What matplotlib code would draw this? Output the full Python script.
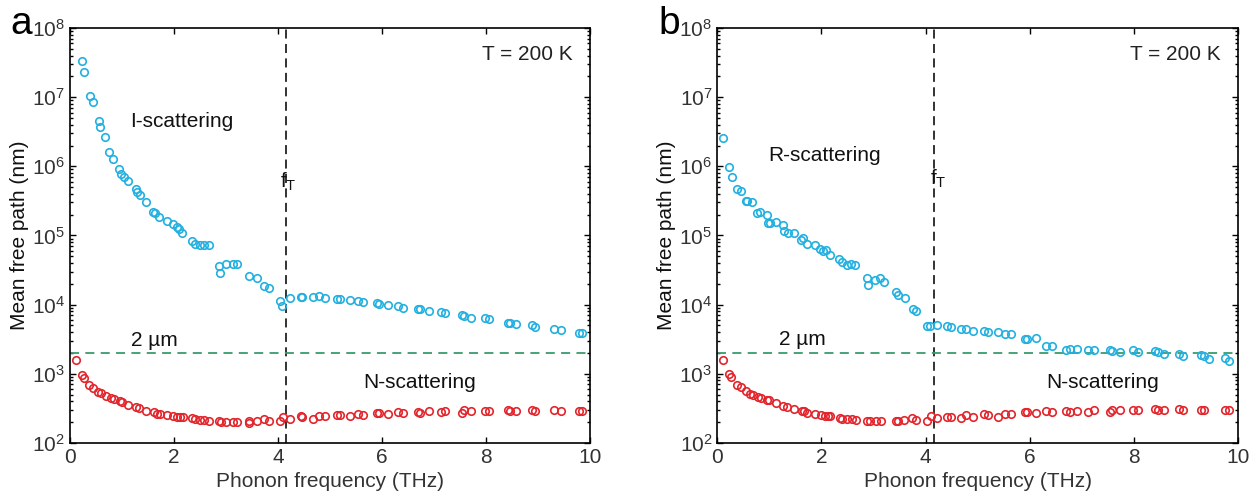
import matplotlib
matplotlib.use('Agg')
import matplotlib.pyplot as plt

plt.rcParams['font.family'] = ['Liberation Sans', 'DejaVu Sans']
plt.rcParams['mathtext.default'] = 'regular'

# panel a: I-scattering (cyan) and N-scattering (red)
freq_a_i = [0.23, 0.27, 0.39, 0.45, 0.55, 0.58, 0.67, 0.76, 0.82, 0.95,
            0.98, 1.03, 1.12, 1.27, 1.29, 1.35, 1.47, 1.60, 1.63, 1.72,
            1.87, 1.99, 2.05, 2.09, 2.16, 2.35, 2.40, 2.50, 2.58, 2.67,
            2.87, 2.89, 3.01, 3.13, 3.21, 3.44, 3.59, 3.74, 3.83, 4.03,
            4.08, 4.23, 4.44, 4.47, 4.68, 4.78, 4.90, 5.13, 5.19, 5.38,
            5.53, 5.64, 5.90, 5.95, 6.12, 6.30, 6.41, 6.70, 6.74, 6.91,
            7.13, 7.22, 7.53, 7.58, 7.72, 7.98, 8.06, 8.42, 8.46, 8.57,
            8.88, 8.95, 9.31, 9.44, 9.78, 9.84]
mfp_a_i = [3.3e7, 2.3e7, 1.04e7, 8.5e6, 4.5e6, 3.7e6, 2.66e6, 1.6e6, 1.26e6, 9.1e5,
           7.7e5, 7.0e5, 6.1e5, 4.7e5, 4.3e5, 3.9e5, 3.0e5, 2.2e5, 2.1e5, 1.87e5,
           1.6e5, 1.46e5, 1.34e5, 1.25e5, 1.08e5, 8.4e4, 7.5e4, 7.2e4, 7.2e4, 7.2e4,
           3.6e4, 2.9e4, 3.9e4, 3.9e4, 3.9e4, 2.57e4, 2.44e4, 1.88e4, 1.72e4, 1.12e4,
           9.4e3, 1.25e4, 1.29e4, 1.29e4, 1.27e4, 1.32e4, 1.25e4, 1.21e4, 1.19e4, 1.15e4,
           1.13e4, 1.09e4, 1.05e4, 1.03e4, 9.9e3, 9.4e3, 8.9e3, 8.7e3, 8.5e3, 8.0e3,
           7.8e3, 7.5e3, 7.1e3, 6.9e3, 6.4e3, 6.3e3, 6.1e3, 5.5e3, 5.5e3, 5.3e3,
           5.1e3, 4.8e3, 4.5e3, 4.3e3, 3.9e3, 3.9e3]

freq_a_n = [0.12, 0.23, 0.27, 0.37, 0.45, 0.53, 0.59, 0.69, 0.78, 0.85,
            0.96, 1.01, 1.12, 1.27, 1.33, 1.46, 1.62, 1.67, 1.73, 1.87,
            1.99, 2.05, 2.12, 2.18, 2.35, 2.40, 2.50, 2.58, 2.67, 2.87,
            2.90, 3.01, 3.13, 3.21, 3.44, 3.44, 3.59, 3.74, 3.83, 4.03,
            4.09, 4.23, 4.44, 4.47, 4.68, 4.78, 4.90, 5.13, 5.19, 5.38,
            5.53, 5.64, 5.90, 5.95, 6.12, 6.30, 6.41, 6.70, 6.74, 6.91,
            7.13, 7.22, 7.53, 7.58, 7.72, 7.98, 8.06, 8.42, 8.46, 8.57,
            8.88, 8.95, 9.31, 9.44, 9.78, 9.84]
mfp_a_n = [1580, 957, 855, 685, 612, 548, 518, 480, 444, 430,
           397, 388, 352, 325, 318, 291, 279, 266, 262, 249,
           241, 239, 239, 233, 228, 218, 213, 213, 208, 207,
           200, 203, 200, 200, 207, 193, 208, 225, 207, 205,
           233, 223, 241, 239, 225, 246, 241, 255, 253, 241,
           261, 255, 269, 267, 259, 284, 269, 284, 273, 288,
           276, 294, 269, 301, 294, 291, 294, 298, 291, 291,
           298, 288, 298, 288, 294, 291]

# panel b: R-scattering (cyan) and N-scattering (red)
freq_b_r = [0.12, 0.23, 0.28, 0.38, 0.45, 0.55, 0.58, 0.67, 0.77, 0.83,
            0.95, 0.98, 1.02, 1.13, 1.27, 1.28, 1.35, 1.47, 1.60, 1.64,
            1.72, 1.87, 1.97, 2.03, 2.08, 2.16, 2.33, 2.40, 2.49, 2.56,
            2.65, 2.88, 2.89, 3.02, 3.13, 3.20, 3.44, 3.46, 3.60, 3.75,
            3.82, 4.02, 4.09, 4.22, 4.40, 4.48, 4.67, 4.78, 4.90, 5.12,
            5.20, 5.38, 5.52, 5.63, 5.90, 5.95, 6.12, 6.31, 6.42, 6.69,
            6.76, 6.90, 7.11, 7.23, 7.53, 7.58, 7.73, 7.97, 8.07, 8.40,
            8.46, 8.57, 8.86, 8.94, 9.29, 9.34, 9.43, 9.74, 9.81]
mfp_b_r = [2.57e6, 9.9e5, 7.0e5, 4.7e5, 4.4e5, 3.1e5, 3.2e5, 3.0e5, 2.1e5, 2.2e5,
           2.0e5, 1.53e5, 1.5e5, 1.58e5, 1.44e5, 1.18e5, 1.1e5, 1.1e5, 8.5e4, 9.3e4,
           7.6e4, 7.3e4, 6.3e4, 6.0e4, 6.1e4, 5.3e4, 4.6e4, 4.1e4, 3.8e4, 3.9e4,
           3.75e4, 2.4e4, 1.9e4, 2.24e4, 2.4e4, 2.1e4, 1.5e4, 1.37e4, 1.25e4, 8.6e3,
           8.0e3, 4.95e3, 4.95e3, 5.1e3, 4.85e3, 4.75e3, 4.5e3, 4.5e3, 4.1e3, 4.2e3,
           3.95e3, 4.0e3, 3.7e3, 3.7e3, 3.16e3, 3.2e3, 3.3e3, 2.5e3, 2.5e3, 2.24e3,
           2.25e3, 2.25e3, 2.2e3, 2.2e3, 2.2e3, 2.15e3, 2.05e3, 2.2e3, 2.07e3, 2.15e3,
           2.04e3, 1.9e3, 1.95e3, 1.82e3, 1.84e3, 1.8e3, 1.64e3, 1.67e3, 1.51e3]

freq_b_n = [0.12, 0.22, 0.27, 0.38, 0.45, 0.55, 0.63, 0.69, 0.79, 0.84,
            0.95, 1.00, 1.13, 1.27, 1.33, 1.47, 1.62, 1.67, 1.73, 1.87,
            1.99, 2.06, 2.12, 2.17, 2.35, 2.40, 2.49, 2.58, 2.67, 2.88,
            2.94, 3.05, 3.15, 3.43, 3.47, 3.58, 3.74, 3.82, 4.02, 4.10,
            4.22, 4.40, 4.48, 4.67, 4.78, 4.90, 5.12, 5.20, 5.38, 5.52,
            5.63, 5.90, 5.95, 6.12, 6.31, 6.42, 6.69, 6.76, 6.90, 7.11,
            7.23, 7.53, 7.58, 7.73, 7.97, 8.07, 8.40, 8.46, 8.57, 8.86,
            8.94, 9.29, 9.34, 9.74, 9.81]
mfp_b_n = [1560, 977, 890, 698, 633, 555, 513, 495, 459, 450,
           424, 413, 380, 344, 329, 311, 291, 285, 270, 258,
           251, 244, 244, 242, 230, 220, 222, 222, 214, 209,
           207, 206, 207, 209, 206, 216, 226, 212, 208, 241,
           228, 240, 238, 226, 250, 240, 262, 255, 240, 265,
           262, 279, 279, 268, 289, 279, 289, 279, 289, 282,
           300, 279, 300, 303, 300, 303, 306, 300, 303, 306,
           298, 303, 300, 303, 300]

f_T = 4.16          # THz
limit_2um = 2000    # nm

CYAN = '#22b0e0'
RED = '#e2252c'
GREEN = '#3a9a6c'
FS = 15


def draw_panel(ax, fx, fy, nx, ny, label_upper, upper_pos, n_pos, um_pos, ft_pos):
    ax.plot(fx, fy, 'o', mfc='none', mec=CYAN, ms=5.4, mew=1.2, zorder=3)
    ax.plot(nx, ny, 'o', mfc='none', mec=RED, ms=5.4, mew=1.2, zorder=3)
    ax.axvline(f_T, color='#222222', ls=(0, (5, 3)), lw=1.3, zorder=2)
    ax.axhline(limit_2um, color=GREEN, ls=(0, (5, 3.5)), lw=1.3, zorder=2)

    ax.set_yscale('log')
    ax.set_xlim(0, 10)
    ax.set_ylim(1e2, 1e8)
    ax.set_xticks([0, 2, 4, 6, 8, 10])
    ax.set_yticks([1e2, 1e3, 1e4, 1e5, 1e6, 1e7, 1e8])
    ax.tick_params(which='both', direction='in', top=True, right=True,
                   labelsize=FS, labelcolor='#333333', width=1.0)
    ax.tick_params(which='major', length=4)
    ax.tick_params(which='minor', length=2.2)
    ax.tick_params(axis='x', which='minor', top=False, bottom=False)
    for s in ax.spines.values():
        s.set_linewidth(1.2)

    ax.set_xlabel('Phonon frequency (THz)', fontsize=FS, color='#333333', labelpad=4)
    ax.set_ylabel('Mean free path (nm)', fontsize=FS, color='#111111', labelpad=2)

    ax.text(0.88, 0.937, 'T = 200 K', transform=ax.transAxes, fontsize=FS,
            ha='center', va='center', color='#222222')
    ax.text(upper_pos[0], upper_pos[1], label_upper, fontsize=FS,
            ha='center', va='center', color='#111111')
    ax.text(n_pos[0], n_pos[1], 'N-scattering', fontsize=FS,
            ha='center', va='center', color='#111111')
    ax.text(um_pos[0], um_pos[1], '2 µm', fontsize=FS,
            ha='center', va='center', color='#111111')
    ax.text(ft_pos[0], ft_pos[1], '$f_T$', fontsize=FS,
            ha='center', va='center', color='#111111')


fig = plt.figure(figsize=(12.56, 5.01), dpi=100)
ax_a = fig.add_axes([0.0557, 0.116, 0.414, 0.828])
ax_b = fig.add_axes([0.571, 0.116, 0.415, 0.828])

draw_panel(ax_a, freq_a_i, mfp_a_i, freq_a_n, mfp_a_n, 'I-scattering',
           (2.15, 4.5e6), (6.73, 750), (1.62, 3.0e3), (4.19, 5.9e5))
draw_panel(ax_b, freq_b_r, mfp_b_r, freq_b_n, mfp_b_n, 'R-scattering',
           (2.06, 1.45e6), (7.40, 740), (1.63, 3.1e3), (4.25, 6.5e5))

fig.text(0.017, 0.952, 'a', fontsize=28, ha='center', va='center')
fig.text(0.533, 0.952, 'b', fontsize=28, ha='center', va='center')

fig.savefig('out.png', dpi=100)
